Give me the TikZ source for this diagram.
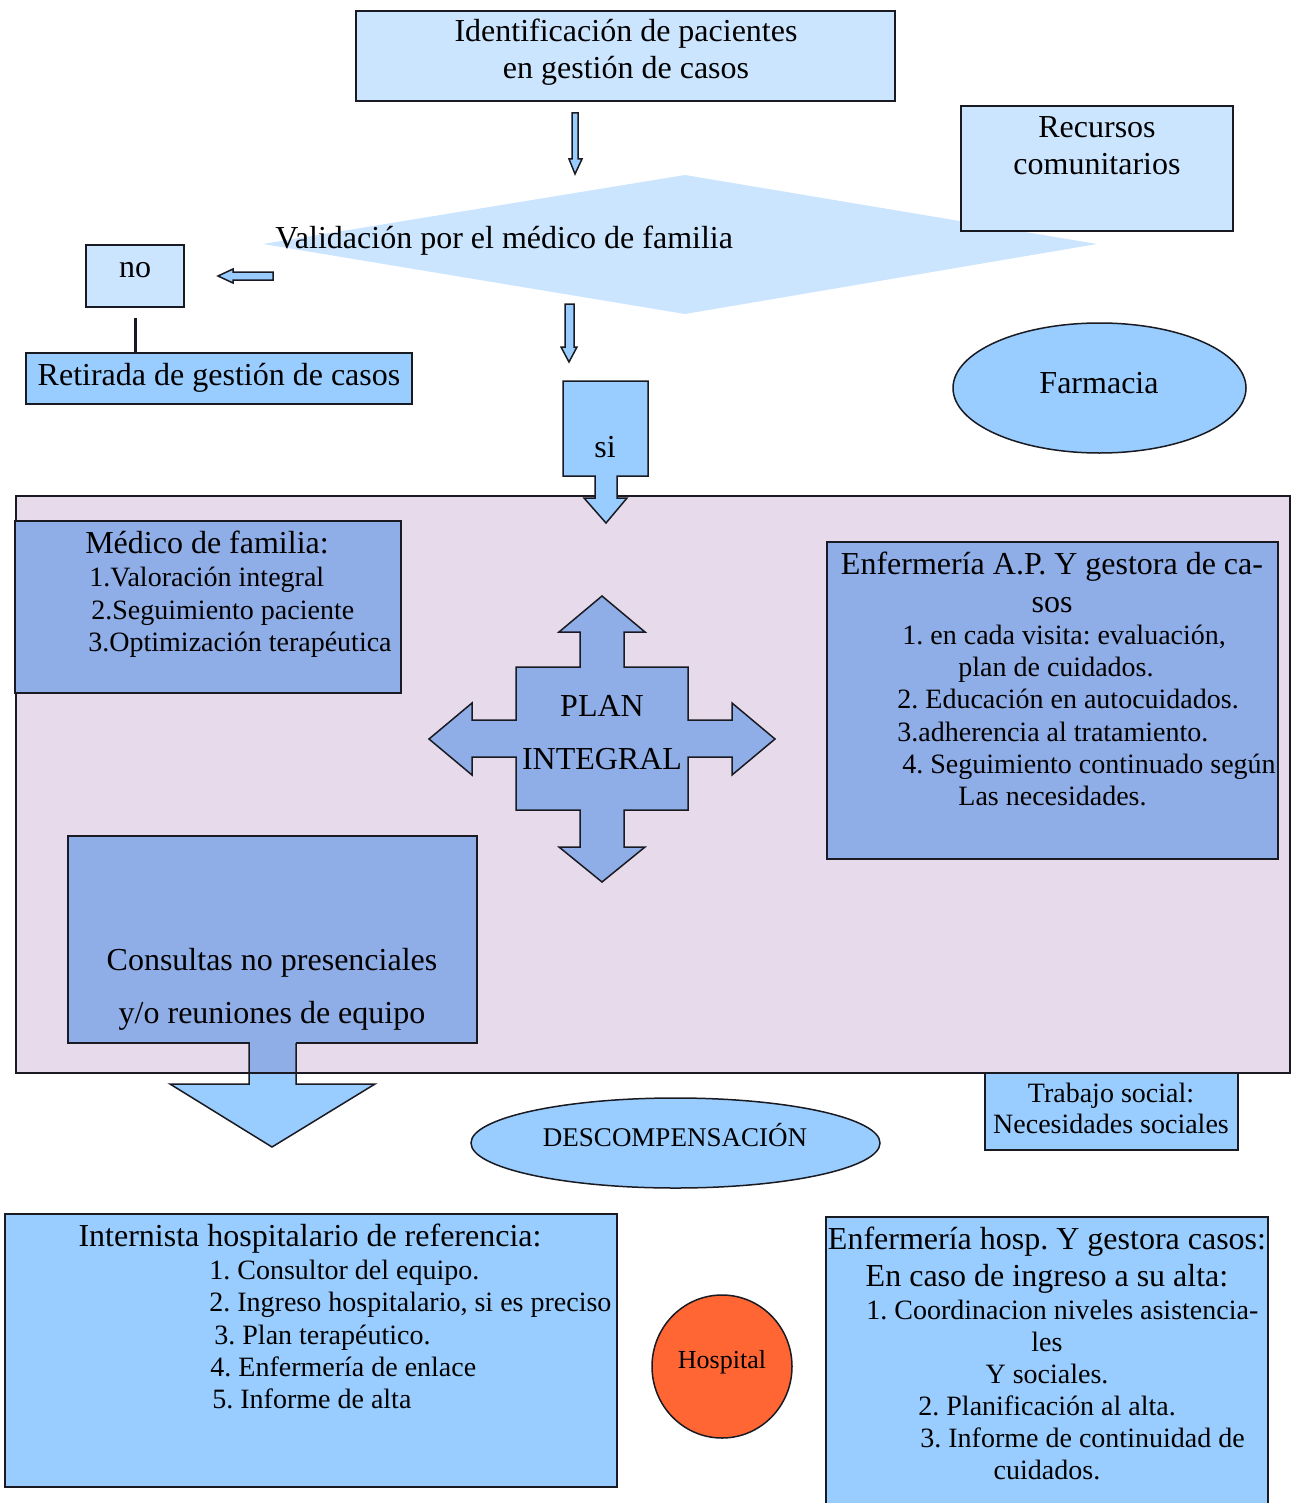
\documentclass[tikz,border=0pt]{standalone}
\usepackage{fontspec}
\setmainfont{Liberation Serif}
\usetikzlibrary{fit,shapes.geometric}
\frenchspacing
\definecolor{lb}{HTML}{CCE5FF}
\definecolor{mb}{HTML}{99CCFF}
\definecolor{pb}{HTML}{8FADE6}
\definecolor{lav}{HTML}{E7DAEA}
\definecolor{hosp}{HTML}{FF6633}
\definecolor{ln}{HTML}{1A1A22}
\tikzset{
  box/.style={draw=ln, line width=0.75pt, inner sep=0pt, rectangle},
  ell/.style={draw=ln, line width=0.75pt, ellipse, inner sep=0pt},
  blk/.style={draw=ln, line width=0.75pt, line join=miter},
  T/.style={inner sep=0pt, yshift=-1.5pt, text height=11.2pt, text depth=3.2pt, font=\fontsize{16}{19}\selectfont\frenchspacing},
  S/.style={inner sep=0pt, yshift=-1.5pt, text height=9.8pt, text depth=2.8pt, font=\fontsize{14}{16}\selectfont\frenchspacing},
}
\begin{document}
\begin{tikzpicture}[x=0.5pt,y=-0.5pt]
\useasboundingbox[fill=white] (0,0) rectangle (1292,1503);

% top box
\node[box, fill=lb, fit={(356,11)(895,101)}] (ident) {};
\node[T] (identa) at (626,31) {Identificación de pacientes};
\node[T] (identb) at (626,68) {en gestión de casos};

% arrow 1
\draw[blk, fill=mb] (572,113) -- (578,113) -- (578,159) -- (582,159) -- (575,174) -- (569,159) -- (572,159) -- cycle;

% diamond
\fill[lb] (263,244) -- (685,175) -- (1097,244) -- (685,314) -- cycle;
\node[T, anchor=west] (valid) at (275,238) {Validación por el médico de familia};

% Recursos
\node[box, fill=lb, fit={(961,106)(1233,231)}] (recur) {};
\node[T] (recura) at (1097,127) {Recursos};
\node[T] (recurb) at (1097,164) {comunitarios};

% no
\node[box, fill=lb, fit={(86,245)(184,307)}] (no) {};
\node[T] (notx) at (135,267) {no};
\draw[blk, fill=mb] (273,272) -- (273,280) -- (233,280) -- (233,283) -- (218,276) -- (233,269) -- (233,272) -- cycle;

% Retirada
\node[box, fill=mb, fit={(26,353)(412,404)}] (ret) {};
\node[T] (rettx) at (219,374) {Retirada de gestión de casos};
\draw[line width=1.5pt, ln] ([yshift=-5pt]no.south) -- (no.south |- ret.north);

% arrow 2
\draw[blk, fill=mb] (565,304) -- (574,304) -- (574,347) -- (577,347) -- (569,362) -- (561,347) -- (565,347) -- cycle;

% Farmacia
\node[ell, fill=mb, minimum width=146.5pt, minimum height=65pt] (farm) at (1099.5,388) {};
\node[T] (farmtx) at (1099,382) {Farmacia};

% big lavender area
\node[draw=ln, line width=0.9pt, fill=lav, inner sep=0pt, fit={(16,496)(1290,1073)}] (area) {};

% si
\draw[blk, fill=mb] (563,381) -- (648,381) -- (648,476) -- (617,476) -- (617,498) -- (627,498) -- (606,523) -- (584,498) -- (595,498) -- (595,476) -- (563,476) -- cycle;
\node[T] (si) at (605,446) {si};

% Medico de familia
\node[box, fill=pb, fit={(15,521)(401,693)}] (med) {};
\node[T] (meda) at (207,542) {Médico de familia:};
\node[S, anchor=west] (medb) at (89,576) {1.Valoración integral};
\node[S, anchor=west] (medc) at (91,609) {2.Seguimiento paciente};
\node[S, anchor=west] (medd) at (88,641) {3.Optimización terapéutica};

% cross
\draw[blk, fill=pb] (602,596) -- (645,632) -- (624,632) -- (624,667) -- (688,667) -- (688,720) -- (732,720) -- (732,703) -- (775,739) -- (732,775) -- (732,757) -- (688,757) -- (688,810) -- (624,810) -- (624,847) -- (645,847) -- (602,882) -- (559,847) -- (580,847) -- (580,810) -- (516,810) -- (516,757) -- (472,757) -- (472,775) -- (429,739) -- (472,703) -- (472,720) -- (516,720) -- (516,667) -- (580,667) -- (580,632) -- (559,632) -- cycle;
\node[T] (plana) at (602,705) {PLAN};
\node[T] (planb) at (602,758) {INTEGRAL};

% Enfermeria AP
\node[box, fill=pb, fit={(827,542)(1278,859)}] (enf) {};
\node[T] (enfa) at (1052,563) {Enfermería A.P. Y gestora de ca-};
\node[T] (enfb) at (1052,601) {sos};
\node[S, anchor=west] (enfc) at (902,634) {1. en cada visita: evaluación,};
\node[S, anchor=west] (enfd) at (958,666) {plan de cuidados.};
\node[S, anchor=west] (enfe) at (897,698) {2. Educación en autocuidados.};
\node[S, anchor=west] (enff) at (897,731) {3.adherencia al tratamiento.};
\node[S, anchor=west] (enfg) at (902,763) {4. Seguimiento continuado según};
\node[S, anchor=west] (enfh) at (958,795) {Las necesidades.};

% Consultas
\node[box, fill=pb, fit={(68,836)(477,1043)}] (cons) {};
\node[T] (consa) at (272,959) {Consultas no presenciales};
\node[T] (consb) at (272,1012) {y/o reuniones de equipo};

% down arrow from Consultas
\fill[mb] (249,1043) -- (249,1084) -- (170,1084) -- (272,1147) -- (375,1084) -- (296,1084) -- (296,1043) -- cycle;
\fill[pb] (249.5,1041) rectangle (295.5,1073);
\draw[blk] (249,1043) -- (249,1084) -- (170,1084) -- (272,1147) -- (375,1084) -- (296,1084) -- (296,1043);
\draw[ln, line width=0.9pt] (249,1073) -- (296,1073);

% Trabajo social
\node[box, fill=mb, fit={(985,1073)(1238,1150)}] (trab) {};
\node[S] (traba) at (1111,1092) {Trabajo social:};
\node[S] (trabb) at (1111,1123) {Necesidades sociales};

% Descompensacion
\node[ell, fill=mb, minimum width=204.5pt, minimum height=45pt] (desc) at (675.5,1143) {};
\node[inner sep=0pt, font=\fontsize{13.5}{16}\selectfont] (desctx) at (675,1135) {DESCOMPENSACIÓN};

% Internista
\node[box, fill=mb, fit={(5,1214)(617,1487)}] (intn) {};
\node[T] (inta) at (310,1235) {Internista hospitalario de referencia:};
\node[S, anchor=west] (intb) at (209,1269) {1. Consultor del equipo.};
\node[S, anchor=west] (intc) at (209,1301) {2. Ingreso hospitalario, si es preciso};
\node[S, anchor=west] (intd) at (214,1334) {3. Plan terapéutico.};
\node[S, anchor=west] (inte) at (210,1366) {4. Enfermería de enlace};
\node[S, anchor=west] (intf) at (212,1398) {5. Informe de alta};

% Hospital
\node[ell, fill=hosp, minimum width=70pt, minimum height=71.5pt] (hos) at (722,1366.5) {};
\node[inner sep=0pt, font=\fontsize{13}{15}\selectfont] (hostx) at (722,1362) {Hospital};

% Enfermeria hosp
\node[box, fill=mb, fit={(826,1217)(1268,1515)}] (enh) {};
\node[T] (enha) at (1047,1238) {Enfermería hosp. Y gestora casos:};
\node[T] (enhb) at (1047,1275) {En caso de ingreso a su alta:};
\node[S, anchor=west] (enhc) at (866,1309) {1. Coordinacion niveles asistencia-};
\node[S] (enhd) at (1047,1341) {les};
\node[S] (enhe) at (1047,1373) {Y sociales.};
\node[S, anchor=west] (enhf) at (918,1405) {2. Planificación al alta.};
\node[S, anchor=west] (enhg) at (920,1437) {3. Informe de continuidad de};
\node[S] (enhh) at (1047,1469) {cuidados.};
\end{tikzpicture}
\end{document}
